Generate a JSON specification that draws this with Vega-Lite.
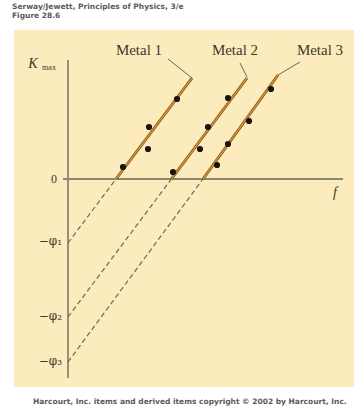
{
  "$schema": "https://vega.github.io/schema/vega-lite/v6.json",
  "width": 354,
  "height": 409,
  "autosize": "none",
  "padding": 0,
  "background": "#ffffff",
  "config": {"view": {"stroke": null}},
  "datasets": {
    "panel": [{"f1": -2.7, "f2": 14.3, "k1": 7.45, "k2": -10.4}],
    "axes": [
      {"f1": 0, "f2": 0, "k1": 5.95, "k2": -9.95},
      {"f1": -0.25, "f2": 13.75, "k1": 0, "k2": 0}
    ],
    "solid": [
      {"metal": "Metal 1", "f": 2.4, "k": 0},
      {"metal": "Metal 1", "f": 6.2, "k": 5.05},
      {"metal": "Metal 2", "f": 5.17, "k": 0},
      {"metal": "Metal 2", "f": 8.95, "k": 5.05},
      {"metal": "Metal 3", "f": 6.75, "k": 0},
      {"metal": "Metal 3", "f": 10.5, "k": 5.2}
    ],
    "dashed": [
      {"metal": "Metal 1", "f": 0, "k": -3.2},
      {"metal": "Metal 1", "f": 2.4, "k": 0},
      {"metal": "Metal 2", "f": 0, "k": -6.9},
      {"metal": "Metal 2", "f": 5.17, "k": 0},
      {"metal": "Metal 3", "f": 0, "k": -9.15},
      {"metal": "Metal 3", "f": 6.75, "k": 0}
    ],
    "leaders": [
      {"f1": 5.0, "k1": 6.0, "f2": 6.2, "k2": 5.05},
      {"f1": 8.6, "k1": 5.8, "f2": 8.95, "k2": 5.1},
      {"f1": 11.6, "k1": 5.85, "f2": 10.5, "k2": 5.2}
    ],
    "points": [
      {"metal": "Metal 1", "f": 2.75, "k": 0.6},
      {"metal": "Metal 1", "f": 4.0, "k": 1.5},
      {"metal": "Metal 1", "f": 4.05, "k": 2.6},
      {"metal": "Metal 1", "f": 5.45, "k": 4.0},
      {"metal": "Metal 2", "f": 5.25, "k": 0.35},
      {"metal": "Metal 2", "f": 6.6, "k": 1.5},
      {"metal": "Metal 2", "f": 7.0, "k": 2.6},
      {"metal": "Metal 2", "f": 8.0, "k": 4.05},
      {"metal": "Metal 3", "f": 7.45, "k": 0.7},
      {"metal": "Metal 3", "f": 8.0, "k": 1.75},
      {"metal": "Metal 3", "f": 9.05, "k": 2.9},
      {"metal": "Metal 3", "f": 10.15, "k": 4.5}
    ],
    "metalLabels": [
      {"label": "Metal 1", "f": 3.55, "k": 6.45},
      {"label": "Metal 2", "f": 8.35, "k": 6.45},
      {"label": "Metal 3", "f": 12.6, "k": 6.45}
    ],
    "phiLabels": [
      {"label": "−φ₁", "f": -0.3, "k": -3.1},
      {"label": "−φ₂", "f": -0.3, "k": -6.85},
      {"label": "−φ₃", "f": -0.3, "k": -9.1}
    ],
    "zeroLabel": [{"label": "0", "f": -0.55, "k": 0}],
    "italicLabels": [
      {"label": "K", "f": -1.75, "k": 5.75},
      {"label": "f", "f": 13.35, "k": -0.7}
    ],
    "subLabels": [{"label": "max", "f": -0.95, "k": 5.55}],
    "header": [
      {"label": "Serway/Jewett, Principles of Physics, 3/e", "f": -2.8, "k": 8.6},
      {"label": "Figure 28.6", "f": -2.8, "k": 8.15},
      {"label": "Harcourt, Inc. items and derived items copyright © 2002 by Harcourt, Inc.", "f": -1.75, "k": -11.15}
    ]
  },
  "layer": [
    {
      "data": {"name": "panel"},
      "mark": {"type": "rect", "color": "#fbebbd"},
      "encoding": {
        "x": {"field": "f1", "type": "quantitative", "scale": {"domain": [-3.4, 14.3], "nice": false, "zero": false}, "axis": null},
        "x2": {"field": "f2"},
        "y": {"field": "k1", "type": "quantitative", "scale": {"domain": [-11.5, 8.95], "nice": false, "zero": false}, "axis": null},
        "y2": {"field": "k2"}
      }
    },
    {
      "data": {"name": "axes"},
      "mark": {"type": "rule", "color": "#8c8672", "strokeWidth": 1.8},
      "encoding": {
        "x": {"field": "f1", "type": "quantitative"},
        "x2": {"field": "f2"},
        "y": {"field": "k1", "type": "quantitative"},
        "y2": {"field": "k2"}
      }
    },
    {
      "data": {"name": "dashed"},
      "mark": {"type": "line", "color": "#6f685a", "strokeWidth": 1.2, "strokeDash": [5, 3]},
      "encoding": {
        "x": {"field": "f", "type": "quantitative"},
        "y": {"field": "k", "type": "quantitative"},
        "detail": {"field": "metal"}
      }
    },
    {
      "data": {"name": "solid"},
      "mark": {"type": "line", "color": "#6b4a1e", "strokeWidth": 2.8},
      "encoding": {
        "x": {"field": "f", "type": "quantitative"},
        "y": {"field": "k", "type": "quantitative"},
        "detail": {"field": "metal"}
      }
    },
    {
      "data": {"name": "solid"},
      "mark": {"type": "line", "color": "#dc8f2a", "strokeWidth": 1.4},
      "encoding": {
        "x": {"field": "f", "type": "quantitative"},
        "y": {"field": "k", "type": "quantitative"},
        "detail": {"field": "metal"}
      }
    },
    {
      "data": {"name": "leaders"},
      "mark": {"type": "rule", "color": "#6e6654", "strokeWidth": 1},
      "encoding": {
        "x": {"field": "f1", "type": "quantitative"},
        "x2": {"field": "f2"},
        "y": {"field": "k1", "type": "quantitative"},
        "y2": {"field": "k2"}
      }
    },
    {
      "data": {"name": "points"},
      "mark": {"type": "circle", "color": "#1a1410", "opacity": 1, "size": 38},
      "encoding": {
        "x": {"field": "f", "type": "quantitative"},
        "y": {"field": "k", "type": "quantitative"}
      }
    },
    {
      "data": {"name": "metalLabels"},
      "mark": {"type": "text", "font": "Liberation Serif", "fontSize": 15, "color": "#3f382c", "align": "center", "baseline": "middle"},
      "encoding": {
        "x": {"field": "f", "type": "quantitative"},
        "y": {"field": "k", "type": "quantitative"},
        "text": {"field": "label"}
      }
    },
    {
      "data": {"name": "phiLabels"},
      "mark": {"type": "text", "font": "DejaVu Serif", "fontSize": 12, "color": "#3f382c", "align": "right", "baseline": "middle"},
      "encoding": {
        "x": {"field": "f", "type": "quantitative"},
        "y": {"field": "k", "type": "quantitative"},
        "text": {"field": "label"}
      }
    },
    {
      "data": {"name": "zeroLabel"},
      "mark": {"type": "text", "font": "Liberation Serif", "fontSize": 12, "color": "#3f382c", "align": "right", "baseline": "middle"},
      "encoding": {
        "x": {"field": "f", "type": "quantitative"},
        "y": {"field": "k", "type": "quantitative"},
        "text": {"field": "label"}
      }
    },
    {
      "data": {"name": "italicLabels"},
      "mark": {"type": "text", "font": "Liberation Serif", "fontSize": 14, "fontStyle": "italic", "color": "#3f382c", "align": "center", "baseline": "middle"},
      "encoding": {
        "x": {"field": "f", "type": "quantitative"},
        "y": {"field": "k", "type": "quantitative"},
        "text": {"field": "label"}
      }
    },
    {
      "data": {"name": "subLabels"},
      "mark": {"type": "text", "font": "Liberation Serif", "fontSize": 8, "color": "#3f382c", "align": "center", "baseline": "middle"},
      "encoding": {
        "x": {"field": "f", "type": "quantitative"},
        "y": {"field": "k", "type": "quantitative"},
        "text": {"field": "label"}
      }
    },
    {
      "data": {"name": "header"},
      "mark": {"type": "text", "font": "DejaVu Sans", "fontSize": 7.5, "fontWeight": "bold", "color": "#5a5a5a", "align": "left", "baseline": "middle"},
      "encoding": {
        "x": {"field": "f", "type": "quantitative"},
        "y": {"field": "k", "type": "quantitative"},
        "text": {"field": "label"}
      }
    }
  ]
}
